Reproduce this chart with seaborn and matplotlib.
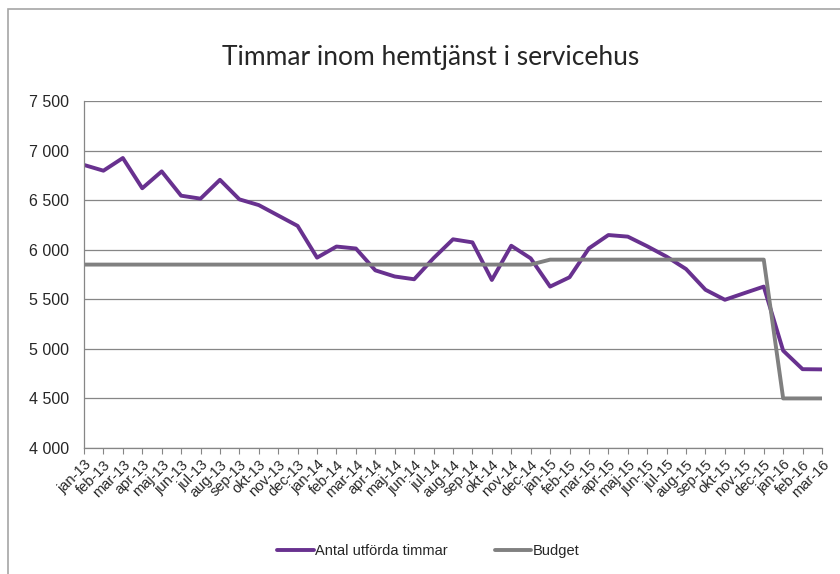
import pandas as pd
import seaborn as sns
import matplotlib.pyplot as plt
from matplotlib.patches import Rectangle
from matplotlib.ticker import FuncFormatter

# data
months = [
    "jan-13", "feb-13", "mar-13", "apr-13", "maj-13", "jun-13", "jul-13", "aug-13",
    "sep-13", "okt-13", "nov-13", "dec-13",
    "jan-14", "feb-14", "mar-14", "apr-14", "maj-14", "jun-14", "jul-14", "aug-14",
    "sep-14", "okt-14", "nov-14", "dec-14",
    "jan-15", "feb-15", "mar-15", "apr-15", "maj-15", "jun-15", "jul-15", "aug-15",
    "sep-15", "okt-15", "nov-15", "dec-15",
    "jan-16", "feb-16", "mar-16",
]
utforda = [
    6855, 6797, 6925, 6620, 6790, 6545, 6515, 6705, 6508, 6450, 6345, 6240,
    5920, 6032, 6012, 5792, 5730, 5702, 5915, 6105, 6074, 5695, 6040, 5913,
    5628, 5722, 6014, 6148, 6132, 6035, 5930, 5805, 5596, 5495, 5562, 5628,
    4982, 4795, 4793,
]
budget = [5850] * 24 + [5900] * 12 + [4500] * 3

serie_names = ["Antal utförda timmar", "Budget"]
colors = ["#68318F", "#808080"]


def build_frame():
    rows = []
    for i, m in enumerate(months):
        rows.append({"idx": i, "month": m, "serie": serie_names[0], "value": utforda[i]})
        rows.append({"idx": i, "month": m, "serie": serie_names[1], "value": budget[i]})
    return pd.DataFrame(rows)


def main():
    sns.set_style("white")
    plt.rcParams["font.family"] = ["Liberation Sans", "DejaVu Sans"]

    df = build_frame()
    fig = plt.figure(figsize=(8.4, 5.74), dpi=100)
    ax = fig.add_axes([84 / 840, 1 - 448 / 574, (822 - 84) / 840, (448 - 101) / 574])

    sns.lineplot(data=df, x="idx", y="value", hue="serie", hue_order=serie_names,
                 palette=colors, linewidth=2.8, ax=ax, legend=False)

    ax.set_xlim(0, len(months) - 1)
    ax.set_ylim(4000, 7500)
    ax.set_yticks(range(4000, 7501, 500))
    ax.yaxis.set_major_formatter(FuncFormatter(lambda v, p: f"{int(v):,}".replace(",", " ")))
    ax.set_xticks(range(len(months)))
    ax.set_xticklabels(months, rotation=45, ha="right", rotation_mode="anchor", fontsize=10.5)
    ax.tick_params(axis="y", labelsize=11.5, length=4, color="#868686", pad=7)
    ax.tick_params(axis="x", length=4, color="#868686", bottom=True, pad=3)
    ax.yaxis.grid(True, color="#868686", linewidth=0.9)
    ax.set_axisbelow(True)
    ax.set_xlabel("")
    ax.set_ylabel("")
    for s in ["top", "right"]:
        ax.spines[s].set_visible(False)
    for s in ["left", "bottom"]:
        ax.spines[s].set_color("#868686")
        ax.spines[s].set_linewidth(0.9)

    fig.text(431 / 840, 1 - 58 / 574, "Timmar inom hemtjänst i servicehus",
             ha="center", va="center", fontsize=19, family=["Lato", "DejaVu Sans"])

    handles = [plt.Line2D([], [], color=c, linewidth=2.8) for c in colors]
    fig.legend(handles, serie_names, loc="center", bbox_to_anchor=(0.51, 1 - 551 / 574),
               ncol=2, frameon=False, fontsize=10.5, handlelength=2.5, handletextpad=0.1,
               columnspacing=3.2)

    fig.patches.append(Rectangle((8 / 840, -0.02), 1.0, 1 - 9 / 574 + 0.02,
                                 transform=fig.transFigure, fill=False,
                                 edgecolor="#a6a6a6", linewidth=1.2))

    fig.savefig("out.png", dpi=100)


if __name__ == "__main__":
    main()
